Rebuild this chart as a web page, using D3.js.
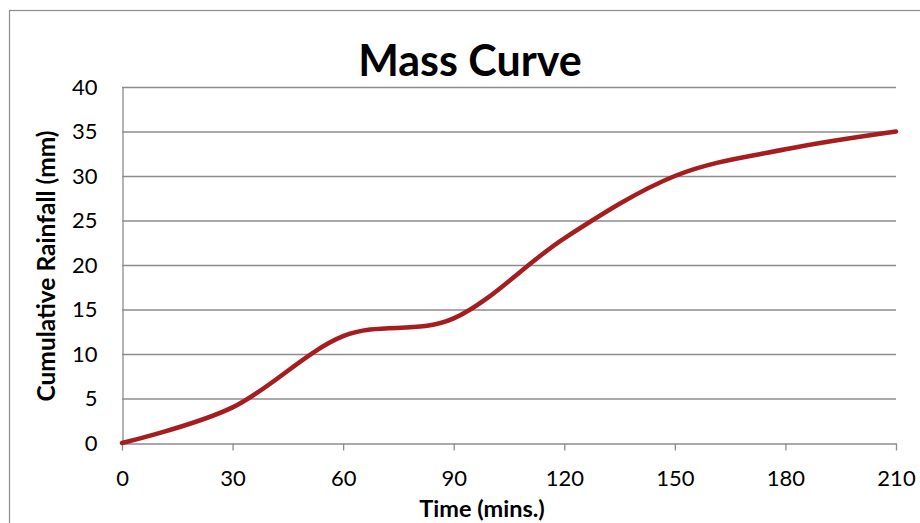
<!DOCTYPE html>
<html>
<head>
<meta charset="utf-8">
<script src="https://cdn.jsdelivr.net/npm/d3@7"></script>
<style>
  html, body { margin: 0; padding: 0; background: #fff; }
  svg { display: block; font-family: Lato, "Open Sans", sans-serif; }
</style>
</head>
<body>
<svg id="chart" width="920" height="523"></svg>
<script>
// Cumulative rainfall readings every 30 minutes
const times = [0, 30, 60, 90, 120, 150, 180, 210];
const rainfall = [0, 4, 12, 14, 23, 30, 33, 35];
const xTicks = [0, 30, 60, 90, 120, 150, 180, 210];
const yTicks = [0, 5, 10, 15, 20, 25, 30, 35, 40];

const svg = d3.select("#chart");
const plot = { left: 122, right: 896, top: 87, bottom: 443 };
const font = "Lato, 'Open Sans', sans-serif";

// Chart frame
svg.append("rect")
  .attr("x", 9.5).attr("y", 10.5)
  .attr("width", 930).attr("height", 530)
  .attr("fill", "#fff").attr("stroke", "#8c8c8c").attr("stroke-width", 1.2);

const x = d3.scaleLinear().domain([0, 210]).range([plot.left, plot.right]);
const y = d3.scaleLinear().domain([0, 40]).range([plot.bottom, plot.top]);

// Horizontal gridlines
svg.append("g")
  .selectAll("line")
  .data(yTicks.filter(d => d > 0))
  .join("line")
  .attr("x1", plot.left).attr("x2", plot.right)
  .attr("y1", d => y(d) + 0.5).attr("y2", d => y(d) + 0.5)
  .attr("stroke", "#8c8c8c").attr("stroke-width", 1.3);

// Y axis
const yAxis = svg.append("g")
  .attr("transform", `translate(${plot.left + 0.5},0)`)
  .call(d3.axisLeft(y).tickValues(yTicks).tickSize(0).tickPadding(25));
yAxis.select(".domain").attr("stroke", "#8c8c8c").attr("stroke-width", 1.3);
yAxis.selectAll("text").attr("font-size", 22).attr("fill", "#000")
  .attr("font-family", font);

// X axis
const xAxis = svg.append("g")
  .attr("transform", `translate(0,${plot.bottom + 0.5})`)
  .call(d3.axisBottom(x).tickValues(xTicks).tickSizeInner(7).tickSizeOuter(0).tickPadding(20));
xAxis.select(".domain").attr("stroke", "#8c8c8c").attr("stroke-width", 1.3);
xAxis.selectAll(".tick line").attr("stroke", "#8c8c8c").attr("stroke-width", 1.3);
xAxis.selectAll("text").attr("font-size", 22).attr("fill", "#000")
  .attr("font-family", font);

// Smoothed mass curve
const line = d3.line()
  .x((d, i) => x(times[i]))
  .y(d => y(d))
  .curve(d3.curveCardinal.tension(0));

svg.append("path")
  .datum(rainfall)
  .attr("d", line)
  .attr("fill", "none")
  .attr("stroke", "#a51d1f")
  .attr("stroke-width", 4.5)
  .attr("stroke-linecap", "round")
  .attr("stroke-linejoin", "round");

// Title and axis titles
svg.append("text")
  .attr("x", 470).attr("y", 76)
  .attr("text-anchor", "middle")
  .attr("font-size", 43).attr("font-weight", "bold")
  .text("Mass Curve");

svg.append("text")
  .attr("x", 482).attr("y", 517)
  .attr("text-anchor", "middle")
  .attr("font-size", 23.5).attr("font-weight", "bold")
  .text("Time (mins.)");

svg.append("text")
  .attr("transform", "translate(55,266) rotate(-90)")
  .attr("text-anchor", "middle")
  .attr("font-size", 24.5).attr("font-weight", "bold")
  .text("Cumulative Rainfall (mm)");
</script>
</body>
</html>
